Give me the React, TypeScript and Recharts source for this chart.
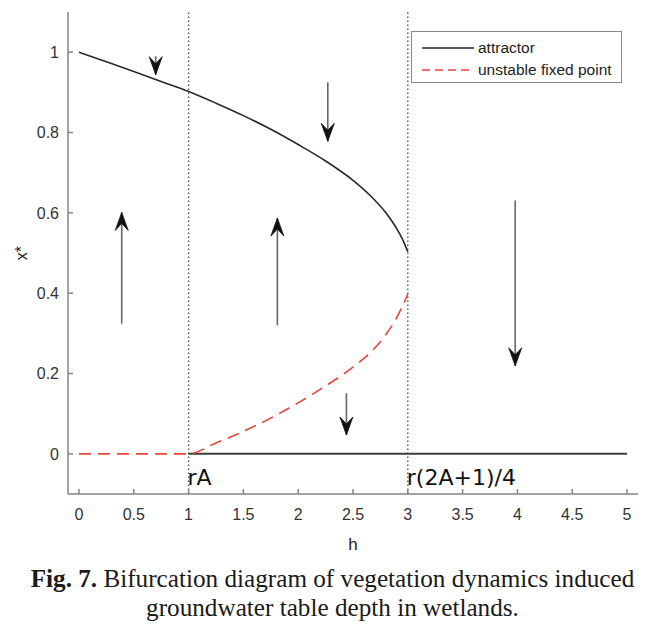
import React from "react";
import { ComposedChart, Line, XAxis, YAxis, ReferenceLine, Legend } from "recharts";

// axis ticks
const hTicks = [0, 0.5, 1, 1.5, 2, 2.5, 3, 3.5, 4, 4.5, 5];
const xTicks = [0, 0.2, 0.4, 0.6, 0.8, 1];

// attractor, upper branch
const upperH = [0, 0.25, 0.5, 0.75, 1, 1.25, 1.5, 1.75, 2, 2.25, 2.5, 2.65, 2.8, 2.9, 2.95, 3];
const upperX = [1, 0.976, 0.952, 0.927, 0.902, 0.873, 0.842, 0.808, 0.77, 0.729, 0.681, 0.645, 0.6, 0.56, 0.535, 0.503];

// attractor, x* = 0 branch
const zeroH = [1, 5];
const zeroX = [0, 0];

// unstable fixed point
const unstableH = [0, 1, 1.25, 1.5, 1.75, 2, 2.25, 2.5, 2.65, 2.8, 2.9, 2.95, 3];
const unstableX = [0, 0, 0.027, 0.056, 0.089, 0.127, 0.169, 0.216, 0.25, 0.297, 0.34, 0.367, 0.398];

// flow arrows: position, start, end
const arrowH = [0.7, 0.39, 1.81, 2.27, 2.44, 3.98];
const arrowFrom = [0.99, 0.324, 0.32, 0.925, 0.151, 0.631];
const arrowTo = [0.944, 0.601, 0.587, 0.778, 0.047, 0.219];

// vertical markers
const markerH = [1, 3];
const markerLabels = ["rA", "r(2A+1)/4"];

const legendLabels = ["attractor", "unstable fixed point"];
const legendColors = ["#222", "#e8453c"];
const legendDash = ["", "8 5"];

const sans = "'Liberation Sans', Arial, Helvetica, sans-serif";
const frame = "#858585";

const toPoints = (hs: number[], xs: number[]) => hs.map((h, i) => ({ h, x: xs[i] }));

const upper = toPoints(upperH, upperX);
const zero = toPoints(zeroH, zeroX);
const unstable = toPoints(unstableH, unstableX);
const arrows = arrowH.map((h, i) => [
  { h, x: arrowFrom[i] },
  { h, x: arrowTo[i] },
]);

const arrowHead = (up: boolean) => (props: any) => {
  const { cx, cy, index } = props;
  if (index !== 1 || cx == null || cy == null) return <g key={`a-${index}`} />;
  const s = up ? 1 : -1;
  const pts = [
    [cx, cy],
    [cx - 6.5, cy + s * 18],
    [cx, cy + s * 11],
    [cx + 6.5, cy + s * 18],
  ]
    .map((p) => p.join(","))
    .join(" ");
  return <polygon key={`a-${index}`} points={pts} fill="#111" stroke="#111" strokeWidth={0.8} />;
};

const markerLabel = (text: string) => (props: any) => {
  const vb = props.viewBox || {};
  return (
    <text
      x={vb.x - 1}
      y={vb.y + vb.height - 9}
      fontFamily="'DejaVu Sans', sans-serif"
      fontSize={22}
      fill="#111"
    >
      {text}
    </text>
  );
};

const renderLegend = () => (
  <div
    style={{
      border: "1px solid #8a8a8a",
      background: "#fff",
      height: 52,
      boxSizing: "border-box",
      padding: "5px 0 0 10px",
      fontFamily: sans,
      fontSize: 15.5,
      color: "#222",
      textAlign: "left",
    }}
  >
    {legendLabels.map((label, i) => (
      <div key={label} style={{ display: "flex", alignItems: "center", height: 22 }}>
        <svg width={52} height={10} style={{ marginRight: 4 }}>
          <line
            x1={0}
            y1={5}
            x2={52}
            y2={5}
            stroke={legendColors[i]}
            strokeWidth={1.5}
            strokeDasharray={legendDash[i]}
          />
        </svg>
        <span>{label}</span>
      </div>
    ))}
  </div>
);

export default function App() {
  return (
    <div style={{ position: "absolute", left: 0, top: 0, width: 659, height: 629, background: "#fff" }}>
      <ComposedChart width={659} height={560} margin={{ top: 12, right: 21, bottom: 26, left: 8 }}>
        <XAxis
          type="number"
          dataKey="h"
          domain={[-0.1, 5.1]}
          allowDataOverflow
          ticks={hTicks}
          height={40}
          tickSize={-5}
          tickMargin={20}
          stroke={frame}
          strokeWidth={1.5}
          tick={{ fill: "#333", fontSize: 16, fontFamily: sans }}
          label={(p: any) => (
            <text
              x={p.viewBox.x + p.viewBox.width / 2}
              y={p.viewBox.y + 56}
              textAnchor="middle"
              fontFamily={sans}
              fontSize={17}
              fill="#222"
            >
              h
            </text>
          )}
        />
        <XAxis
          xAxisId="top"
          orientation="top"
          type="number"
          dataKey="h"
          domain={[-0.1, 5.1]}
          allowDataOverflow
          ticks={hTicks}
          height={0}
          tickSize={-5}
          tick={false}
          stroke={frame}
          strokeWidth={1.5}
        />
        <YAxis
          type="number"
          domain={[-0.1, 1.1]}
          allowDataOverflow
          ticks={xTicks}
          width={60}
          tickSize={-5}
          tickMargin={14}
          stroke={frame}
          strokeWidth={1.5}
          tick={{ fill: "#333", fontSize: 16, fontFamily: sans }}
          label={(p: any) => {
            const cx = p.viewBox.x + 13;
            const cy = p.viewBox.y + p.viewBox.height / 2;
            return (
              <text
                x={cx}
                y={cy}
                transform={`rotate(-90 ${cx} ${cy})`}
                textAnchor="middle"
                dominantBaseline="central"
                fontFamily={sans}
                fontSize={16}
                fill="#222"
              >
                x*
              </text>
            );
          }}
        />
        <YAxis
          yAxisId="right"
          orientation="right"
          type="number"
          domain={[-0.1, 1.1]}
          allowDataOverflow
          ticks={xTicks}
          width={0}
          tickSize={-5}
          tick={false}
          stroke={frame}
          strokeWidth={1.5}
        />

        {markerH.map((h, i) => (
          <ReferenceLine
            key={h}
            x={h}
            stroke="#555"
            strokeWidth={1.4}
            strokeDasharray="1.4 2.6"
            label={markerLabel(markerLabels[i])}
          />
        ))}

        <Line
          data={zero}
          dataKey="x"
          name="attractor"
          stroke="#3c3c3c"
          strokeWidth={2}
          dot={false}
          isAnimationActive={false}
        />
        <Line
          data={unstable}
          dataKey="x"
          name="unstable fixed point"
          type="monotone"
          stroke="#e8453c"
          strokeWidth={1.6}
          strokeDasharray="12 7"
          dot={false}
          isAnimationActive={false}
        />
        <Line
          data={upper}
          dataKey="x"
          name="attractor"
          type="monotone"
          stroke="#2a2a2a"
          strokeWidth={1.6}
          dot={false}
          isAnimationActive={false}
        />

        {arrows.map((pts, i) => (
          <Line
            key={`arrow-${i}`}
            data={pts}
            dataKey="x"
            stroke="#666"
            strokeWidth={1.6}
            dot={arrowHead(arrowTo[i] > arrowFrom[i])}
            activeDot={false}
            isAnimationActive={false}
          />
        ))}

        <Legend
          layout="horizontal"
          verticalAlign="middle"
          align="center"
          wrapperStyle={{ left: 411, top: 31, width: 211 }}
          content={renderLegend}
        />
      </ComposedChart>
      <div
        style={{
          position: "absolute",
          top: 564,
          left: 0,
          width: 659,
          paddingLeft: 6,
          boxSizing: "border-box",
          textAlign: "center",
          fontFamily: "'Liberation Serif', 'Times New Roman', serif",
          fontSize: 25.2,
          lineHeight: "29px",
          color: "#1a1a1a",
          whiteSpace: "nowrap",
        }}
      >
        <b>Fig. 7.</b> Bifurcation diagram of vegetation dynamics induced
        <br />
        groundwater table depth in wetlands.
      </div>
    </div>
  );
}
